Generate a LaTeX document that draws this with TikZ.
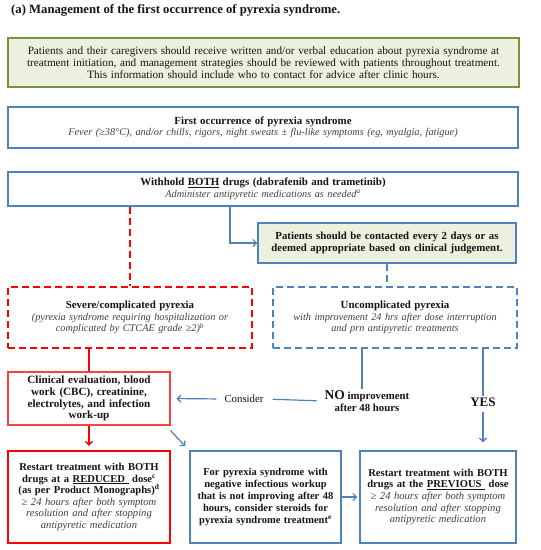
\documentclass[tikz,border=0pt]{standalone}
\usepackage{fontspec}
\setmainfont{Liberation Serif}
\usetikzlibrary{arrows.meta}
\definecolor{bl}{HTML}{4F81BD}
\definecolor{rd}{HTML}{FF0000}
\definecolor{lrd}{HTML}{FF4040}
\definecolor{gf}{HTML}{EBF1DE}
\definecolor{gd}{HTML}{77933C}
\definecolor{tx}{HTML}{151515}
\definecolor{itc}{HTML}{404040}
\newcommand\itl[1]{{\itshape\color{itc}#1}}
\tikzset{
  basebox/.style={align=center, inner xsep=3pt, inner ysep=2pt, text=tx, font=\fontsize{10.3}{11.5}\selectfont},
  bluebox/.style={basebox, draw=bl, line width=1.5pt},
  greenbox/.style={basebox, draw=gd, fill=gf, line width=1.7pt},
  redbox/.style={basebox, draw=rd, line width=2.5pt},
  reddash/.style={basebox, draw=rd, line width=1.7pt, dash pattern=on 7pt off 4pt},
  bluedash/.style={basebox, draw=bl, line width=1.4pt, dash pattern=on 7pt off 4pt},
  lredbox/.style={basebox, draw=lrd, line width=1.1pt},
  conn/.style={draw=bl, line width=1.2pt},
  arr/.style={conn, -{Straight Barb[length=3.5pt,width=7pt]}},
  rconn/.style={draw=rd, line width=1.3pt},
  rarr/.style={rconn, -{Straight Barb[length=3.5pt,width=7pt]}},
  lbl/.style={align=center, text=tx, inner sep=1pt}
}
\begin{document}
\begin{tikzpicture}[x=1pt,y=-1pt]
\useasboundingbox[fill=white] (0,0) rectangle (541,550);

\node[anchor=west, text=tx, font=\fontsize{12.7}{14}\selectfont\bfseries, inner sep=0pt] (title) at (11,10) {(a) Management of the first occurrence of pyrexia syndrome.};

\node[greenbox, minimum width=511pt, minimum height=49pt, text width=505pt, font=\fontsize{11.2}{11.8}\selectfont] (edu) at (263.5,62.5)
{Patients and their caregivers should receive written and/or verbal education about pyrexia syndrome at\\
treatment initiation, and management strategies should be reviewed with patients throughout treatment.\\
This information should include who to contact for advice after clinic hours.};

\node[bluebox, minimum width=510pt, minimum height=41pt, text width=504pt] (first) at (263,127.5)
{{\fontsize{10.9}{11.5}\selectfont\bfseries First occurrence of pyrexia syndrome}\\
\itl{Fever (≥38°C), and/or chills, rigors, night sweats ± flu-like symptoms (eg, myalgia, fatigue)}};

\node[bluebox, minimum width=510pt, minimum height=34pt, text width=504pt] (hold) at (263,189)
{{\fontsize{10.9}{11.5}\selectfont\bfseries Withhold \underline{BOTH} drugs (dabrafenib and trametinib)}\\
\itl{Administer antipyretic medications as needed\textsuperscript{a}}};

\node[bluebox, fill=gf, minimum width=258pt, minimum height=40pt, text width=252pt, font=\fontsize{10.8}{12}\selectfont\bfseries] (pat) at (387,243)
{Patients should be contacted every 2 days or as\\
deemed appropriate based on clinical judgement.};

\node[reddash, minimum width=244pt, minimum height=61pt, text width=238pt] (sev) at (130,317.5)
{{\fontsize{10.9}{11.5}\selectfont\bfseries Severe/complicated pyrexia}\\
\itl{(pyrexia syndrome requiring hospitalization or}\\
\itl{complicated by CTCAE grade ≥2)\textsuperscript{b}}};

\node[bluedash, minimum width=244pt, minimum height=61pt, text width=238pt] (unc) at (395,317.5)
{{\fontsize{10.9}{11.5}\selectfont\bfseries Uncomplicated pyrexia}\\
\itl{with improvement 24 hrs after dose interruption}\\
\itl{and prn antipyretic treatments}};

\node[lredbox, minimum width=162pt, minimum height=53pt, text width=156pt, font=\fontsize{11.1}{11.8}\selectfont\bfseries] (clin) at (89,398.5)
{Clinical evaluation, blood\\ work (CBC), creatinine,\\ electrolytes, and infection\\ work-up};

\node[lbl, font=\fontsize{10.8}{12}\selectfont] (cons) at (244,399) {Consider};
\node[lbl, font=\fontsize{10.8}{12}\selectfont\bfseries] (no) at (367,401) {{\fontsize{13.5}{13}\selectfont NO} improvement\\ after 48 hours};
\node[lbl, font=\fontsize{13}{13}\selectfont\bfseries] (yes) at (483,402) {YES};

\node[redbox, minimum width=162pt, minimum height=92pt, text width=156pt, font=\fontsize{10.6}{11.6}\selectfont] (red) at (89,497)
{\textbf{Restart treatment with BOTH}\\
\textbf{drugs at a \underline{REDUCED\ } dose\textsuperscript{c}}\\
\textbf{(as per Product Monographs)\textsuperscript{d}}\\
\itl{≥ 24 hours after both symptom}\\
\itl{resolution and after stopping}\\
\itl{antipyretic medication}};

\node[bluebox, minimum width=151pt, minimum height=92pt, text width=145pt, font=\fontsize{10.5}{11.8}\selectfont\bfseries] (mid) at (265.5,497)
{For pyrexia syndrome with\\ negative infectious workup\\ that is not improving after 48\\ hours, consider steroids for\\ pyrexia syndrome treatment\textsuperscript{e}};

\node[bluebox, minimum width=156pt, minimum height=92pt, text width=150pt, font=\fontsize{10.6}{11.6}\selectfont] (prev) at (438,497)
{\textbf{Restart treatment with BOTH}\\
\textbf{drugs at the \underline{PREVIOUS\ } dose}\\
\itl{≥ 24 hours after both symptom}\\
\itl{resolution and after stopping}\\
\itl{antipyretic medication}};

% connectors
\draw[rconn, line width=1.7pt, dash pattern=on 7pt off 4pt] (hold.south -| sev.north) -- (sev.north);
\draw[arr] ([xshift=-33pt]hold.south) |- (pat.west);
\draw[conn, line width=1.4pt, dash pattern=on 7pt off 4pt] (pat.south) -- (unc.north -| pat.south);
\draw[rconn] (sev.south -| clin.north) -- (clin.north);
\draw[rarr, shorten >=4pt] (clin.south) -- (red.north);
\draw[arr] ([yshift=-5pt]clin.south east) -- ([shift={(-4pt,4pt)}]mid.north west);
\draw[conn] ([xshift=-5pt]unc.south -| no.north) -- ([xshift=-5pt]no.north);
\draw[conn, shorten <=7pt, shorten >=8pt] (no.west) -- (cons.east);
\draw[arr, shorten >=6pt, shorten <=7pt] (cons.west) -- (clin.east);
\draw[conn] (unc.south -| yes.north) -- (yes.north);
\draw[arr, shorten >=8pt, shorten <=4pt] (yes.south) -- (prev.north -| yes.south);
\draw[arr, shorten >=2pt] (mid.east) -- (prev.west);
\end{tikzpicture}
\end{document}
